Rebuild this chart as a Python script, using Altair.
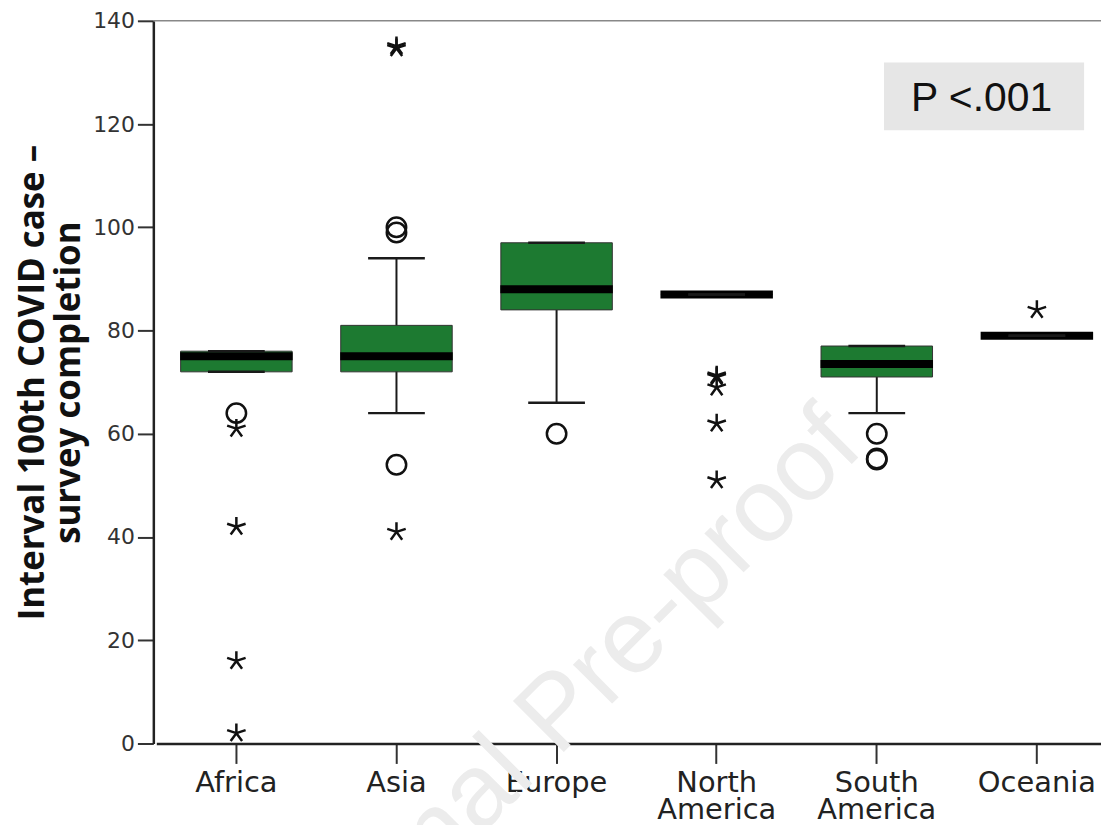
import altair as alt
import pandas as pd

regions = ["Africa", "Asia", "Europe", "North America", "South America", "Oceania"]
lo = [72, 64, 66, 87, 64, 79]
q1 = [72, 72, 84, 87, 71, 79]
med = [75, 75, 88, 87, 73.5, 79]
q3 = [76, 81, 97, 87, 77, 79]
hi = [76, 94, 97, 87, 77, 79]

circ_region = ["Africa", "Asia", "Asia", "Asia", "Europe", "South America", "South America", "South America"]
circ_value = [64, 99, 100, 54, 60, 60, 55, 55.2]

star_region = ["Africa", "Africa", "Africa", "Africa", "Asia", "Asia", "Asia",
               "North America", "North America", "North America", "North America", "North America",
               "Oceania"]
star_value = [61, 42, 16, 2, 41, 134.7, 135.1,
              71, 71.3, 69, 62, 51,
              84]

y_ticks = [0, 20, 40, 60, 80, 100, 120, 140]

box = pd.DataFrame({"region": regions, "lo": lo, "q1": q1, "med": med, "q3": q3, "hi": hi})
circ = pd.DataFrame({"region": circ_region, "value": circ_value})
stars = pd.DataFrame({"region": star_region, "value": star_value})

GREEN = "#1d7a31"
STAR = "M0,0L0,-1M0,0L0.951,-0.309M0,0L0.588,0.809M0,0L-0.588,0.809M0,0L-0.951,-0.309"

xenc = alt.X("region:N", sort=regions,
             scale=alt.Scale(type="band", domain=regions, range=[3, 968],
                             paddingInner=0, paddingOuter=0),
             axis=alt.Axis(title=None, labelExpr="split(datum.label, ' ')",
                           labelAngle=0, labelFont="DejaVu Sans", labelFontSize=29,
                           labelColor="#222", labelLineHeight=27, labelPadding=5,
                           tickSize=20, tickWidth=2, tickColor="#333",
                           domainColor="#222", domainWidth=2.5))
yscale = alt.Scale(domain=[0, 140], nice=False, zero=True)
yaxis = alt.Axis(title=["Interval 100th COVID case –", "survey completion"],
                 titleFont="Open Sans", titleFontWeight=700, titleFontSize=35,
                 titleColor="#111", titleLineHeight=36, titleAngle=270,
                 titleX=-110, titleY=363, titleAlign="center", titleBaseline="alphabetic",
                 values=y_ticks, labelFont="DejaVu Sans", labelFontSize=22, labelColor="#333",
                 labelPadding=3, tickSize=16, tickWidth=2, tickColor="#333",
                 domainColor="#222", domainWidth=2.5, grid=False)

base = alt.Chart(box)

watermark = alt.Chart(pd.DataFrame({"t": ["Journal Pre-proof"]})).mark_text(
    angle=315, fontSize=105, font="Liberation Sans", color="#ececec",
    align="center", baseline="alphabetic"
).encode(text="t:N", x=alt.value(429), y=alt.value(718))

top_rule = alt.Chart(pd.DataFrame({"v": [140]})).mark_rule(
    color="#888", strokeWidth=1.5).encode(y=alt.Y("v:Q", scale=yscale, axis=yaxis))

whisk = base.mark_rule(color="#1a1a1a", strokeWidth=2).encode(
    x=xenc, y=alt.Y("lo:Q", scale=yscale, axis=yaxis), y2="hi:Q")
boxes = base.mark_bar(size=112, color=GREEN, stroke="#333", strokeWidth=1).encode(
    x=xenc, y=alt.Y("q1:Q", scale=yscale), y2="q3:Q")
medians = base.mark_tick(size=113, thickness=8, color="black", opacity=1).encode(
    x=xenc, y=alt.Y("med:Q", scale=yscale))
cap_lo = base.mark_tick(size=57, thickness=2.5, color="#1a1a1a", opacity=1).encode(
    x=xenc, y=alt.Y("lo:Q", scale=yscale))
cap_hi = base.mark_tick(size=57, thickness=2.5, color="#1a1a1a", opacity=1).encode(
    x=xenc, y=alt.Y("hi:Q", scale=yscale))

circles = alt.Chart(circ).mark_point(shape="circle", filled=False, size=380,
                                     strokeWidth=2.5, color="#111", opacity=1).encode(
    x=xenc, y=alt.Y("value:Q", scale=yscale))
star_pts = alt.Chart(stars).mark_point(shape=STAR, filled=False, size=380,
                                       strokeWidth=2.5, color="#111", opacity=1).encode(
    x=xenc, y=alt.Y("value:Q", scale=yscale))

pdf = pd.DataFrame({"t": ["P <.001"]})
pbox = alt.Chart(pdf).mark_rect(color="#e6e6e6").encode(
    x=alt.value(734), x2=alt.value(935), y=alt.value(42), y2=alt.value(110))
ptext = alt.Chart(pdf).mark_text(font="Liberation Sans", fontSize=41, color="#111",
                                 align="center", baseline="alphabetic").encode(
    text="t:N", x=alt.value(832), y=alt.value(91))

chart = alt.layer(watermark, top_rule, whisk, boxes, medians, cap_lo, cap_hi,
                  circles, star_pts, pbox, ptext).properties(
    width=952, height=726,
    padding={"left": 146, "top": 11, "right": 0, "bottom": 80},
    autosize=alt.AutoSizeParams(type="none"),
    background="white"
).configure_view(strokeWidth=0)

chart.save("out.html", embed_options={"renderer": "svg", "actions": False})
